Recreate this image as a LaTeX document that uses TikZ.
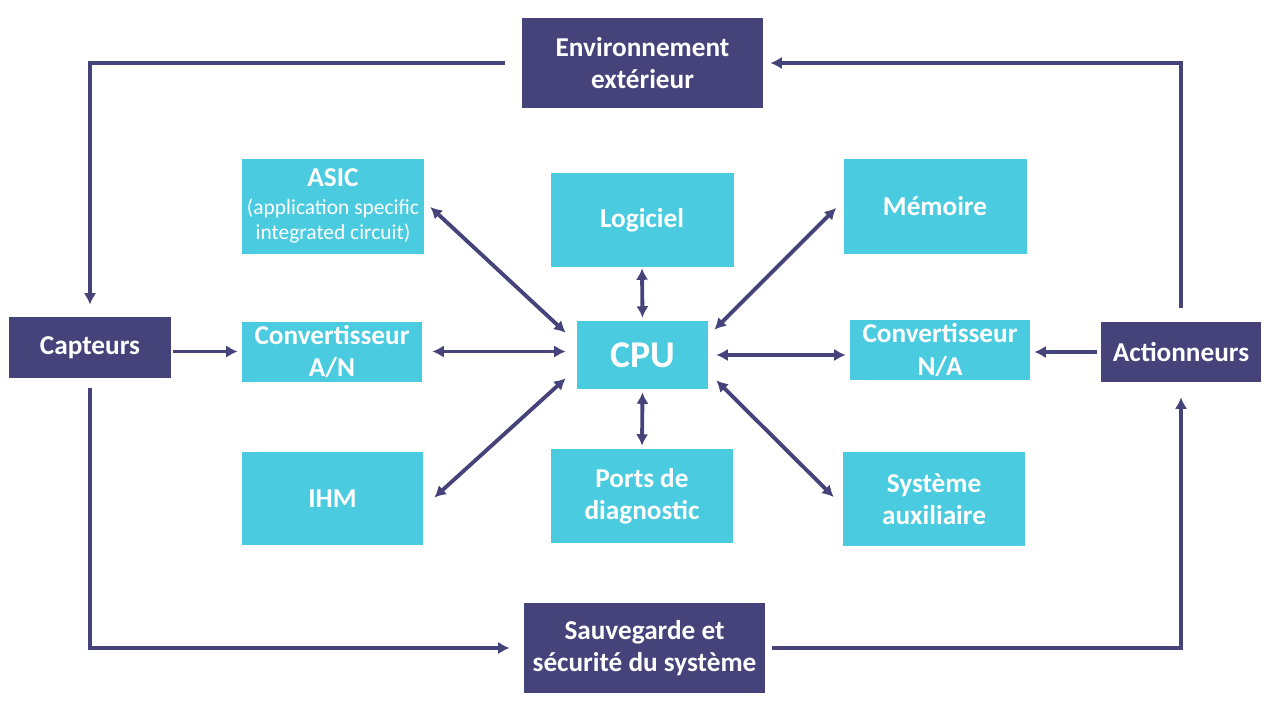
\documentclass[tikz,border=0pt]{standalone}
\usepackage{fontspec}
\setmainfont{Carlito}
\usetikzlibrary{arrows.meta}
\definecolor{fondclair}{RGB}{74,203,224}
\definecolor{fondfonce}{RGB}{70,67,123}
\newcommand\petit{\fontsize{12.2}{14.7}\selectfont\mdseries}
\begin{document}
\begin{tikzpicture}[x=0.02cm,y=-0.02cm,
  boite/.style 2 args={rectangle, inner sep=0pt, align=center, text=white,
    font=\fontsize{15.5}{18.5}\selectfont\bfseries,
    minimum width=#1*0.02cm, minimum height=#2*0.02cm},
  clair/.style={boite={#1}, fill=fondclair},
  fonce/.style={boite={#1}, fill=fondfonce},
  fleche/.style={draw=fondfonce, line width=2.2pt, -{Latex[length=6.5pt,width=7pt]}},
  double/.style={fleche, {Latex[length=6.5pt,width=7pt]}-{Latex[length=6.5pt,width=7pt]}}]
\useasboundingbox (0,0) rectangle (1280,720);
% blocs exterieurs
\node[fonce={241}{90}] (env) at (642.5,63) {Environnement\\extérieur};
\node[fonce={162}{61}] (capt) at (90,347.5) {Capteurs};
\node[fonce={160}{60}] (act) at (1181,352) {Actionneurs};
\node[fonce={241}{90}] (sauv) at (644.5,648) {Sauvegarde et\\sécurité du système};
% blocs internes
\node[clair={182}{95}, font=\fontsize{15.5}{14.7}\selectfont\bfseries] (asic) at (333,206) {ASIC\\[1.2pt]\petit (application specific\\\petit integrated circuit)};
\node[clair={183}{94}] (logi) at (642,220) {Logiciel};
\node[clair={183}{95}] (mem) at (935,206) {Mémoire};
\node[clair={180}{60}] (can) at (332,351.5) {Convertisseur\\A/N};
\node[clair={131}{68}, font=\fontsize{21.5}{26}\selectfont\bfseries] (cpu) at (642.5,355) {CPU};
\node[clair={180}{60}] (cna) at (940,350) {Convertisseur\\N/A};
\node[clair={181}{93}] (ihm) at (332.5,498.5) {IHM};
\node[clair={182}{94}] (ports) at (642,496) {Ports de\\diagnostic};
\node[clair={182}{94}] (sys) at (934,499) {Système\\auxiliaire};
% boucle exterieure
\draw[fleche, shorten <=0.34cm, shorten >=0.24cm] (env.west) -| (capt.north);
\draw[fleche, shorten <=0.28cm, shorten >=0.14cm] (act.north) |- (env.east);
\draw[fleche, shorten <=0.2cm, shorten >=0.28cm] (capt.south) |- (sauv.west);
\draw[fleche, shorten <=0.14cm, shorten >=0.3cm] (sauv.east) -| (act.south);
\draw[fleche, shorten <=0.04cm, shorten >=0.08cm] (capt.east |- can.west) -- (can.west);
\draw[fleche, shorten <=0.08cm, shorten >=0.08cm] (act.west) -- (act.west -| cna.east);
% liaisons avec le CPU
\draw[double, shorten <=0.2cm, shorten >=0.22cm] (can.east) -- (can.east -| cpu.west);
\draw[double, shorten <=0.16cm, shorten >=0.08cm] (cpu.east) -- (cpu.east -| cna.west);
\draw[double, shorten <=0.02cm, shorten >=0.06cm] (logi.south) -- (cpu.north);
\draw[double, shorten <=0.06cm, shorten >=0.06cm] (cpu.south) -- (ports.north);
\draw[double] ([shift={(6,1)}]asic.east) -- ([shift={(-11,12)}]cpu.north west);
\draw[double] ([shift={(-7,2)}]mem.west) -- ([shift={(6,9)}]cpu.north east);
\draw[double] ([shift={(11,-1)}]ihm.east) -- ([shift={(-11,-11)}]cpu.south west);
\draw[double] ([shift={(-9,-2)}]sys.west) -- ([shift={(8,-9)}]cpu.south east);
\end{tikzpicture}
\end{document}
